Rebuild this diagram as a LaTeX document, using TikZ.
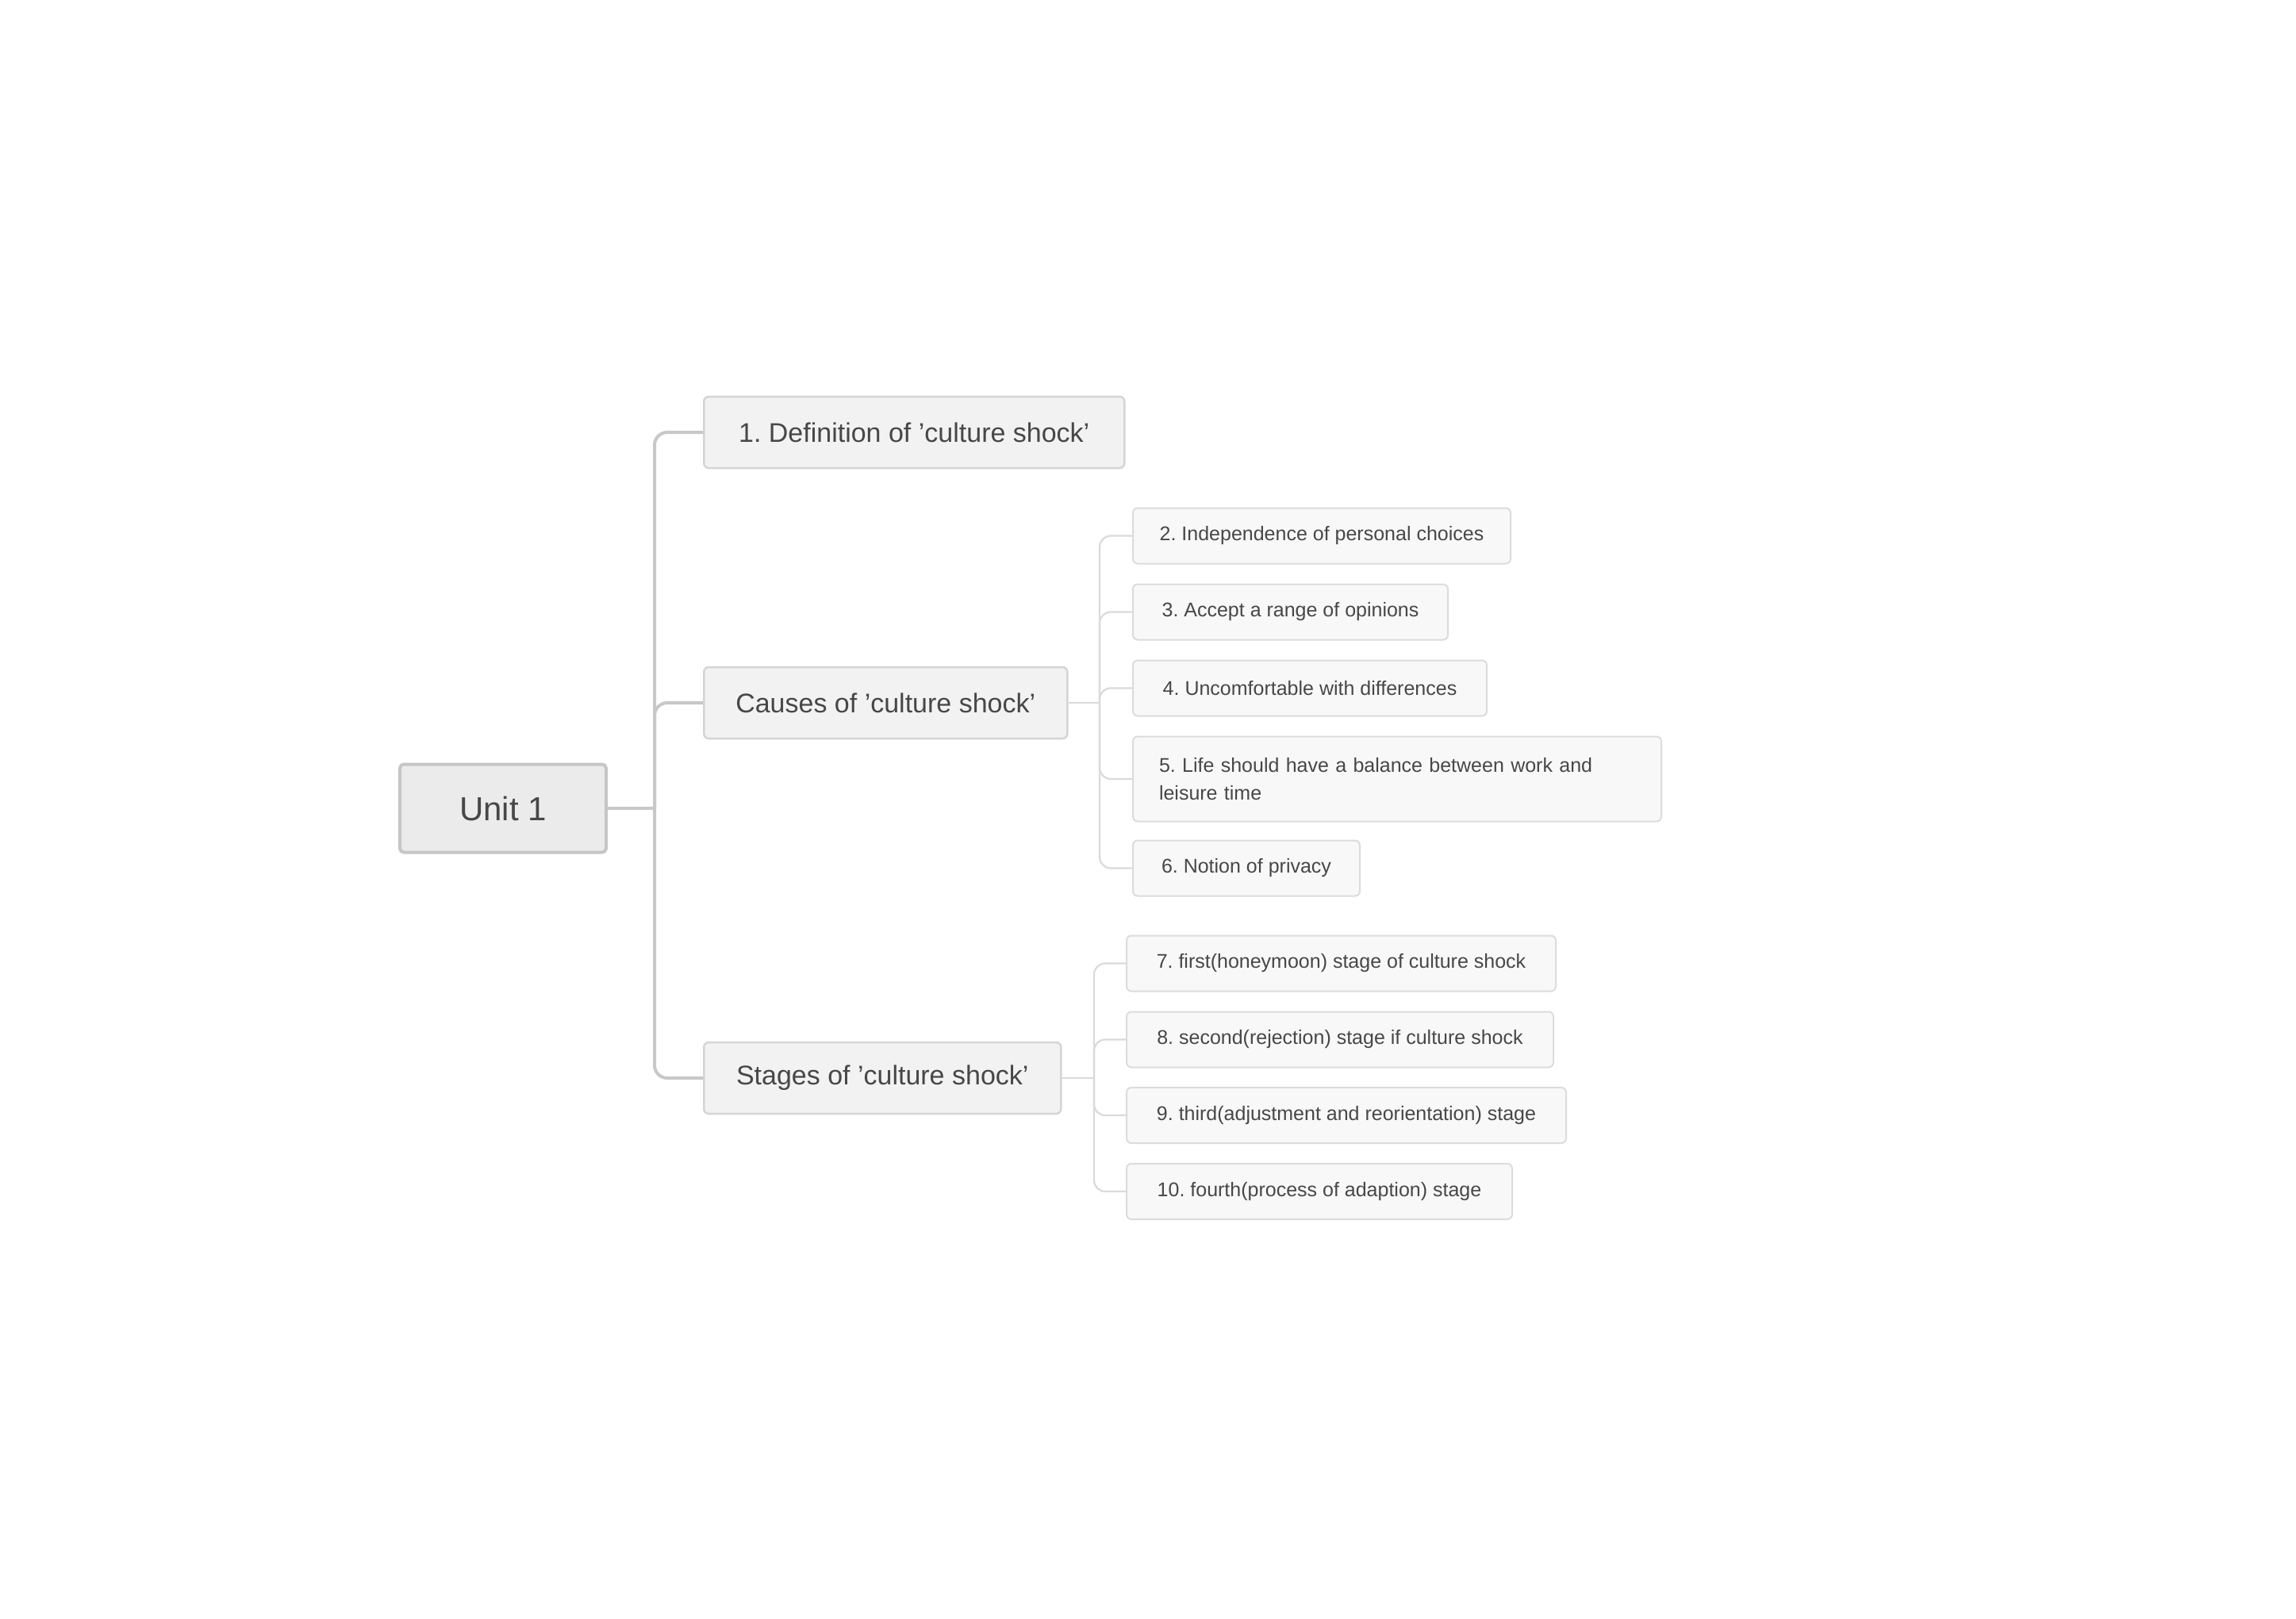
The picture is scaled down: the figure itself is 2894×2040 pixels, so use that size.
\documentclass[tikz,border=0pt]{standalone}
\usepackage{fontspec}
\setmainfont{Liberation Sans}
\frenchspacing
\usetikzlibrary{positioning}

\definecolor{txt}{HTML}{474747}
\definecolor{rootfill}{HTML}{EBEBEB}
\definecolor{rootline}{HTML}{C6C6C6}
\definecolor{mainfill}{HTML}{F2F2F2}
\definecolor{mainline}{HTML}{D5D5D5}
\definecolor{subfill}{HTML}{F8F8F8}
\definecolor{subline}{HTML}{DCDCDC}
\definecolor{linkA}{HTML}{C8C8C8}
\definecolor{linkB}{HTML}{DADADA}

\tikzset{
  rootbox/.style={draw=rootline, fill=rootfill, line width=4pt, rounded corners=5pt,
    minimum width=260pt, minimum height=111pt, anchor=west, text=txt,
    font=\fontsize{42}{50}\selectfont},
  mainbox/.style={draw=mainline, fill=mainfill, line width=2.5pt, rounded corners=6pt,
    minimum height=90pt, anchor=west, inner xsep=0pt, minimum width=#1,
    text=txt, font=\fontsize{34}{42}\selectfont},
  subbox/.style={draw=subline, fill=subfill, line width=2pt, rounded corners=6pt,
    minimum height=70pt, anchor=west, inner xsep=0pt, minimum width=#1,
    text=txt, font=\fontsize{25}{35}\selectfont},
  widebox/.style={subbox=#1, inner xsep=33pt, minimum width=0pt, text width=#1-66pt,
    align=left, minimum height=107pt},
  mainlink/.style={draw=linkA, line width=4pt},
  sublink/.style={draw=linkB, line width=2.2pt},
}

\begin{document}
\begin{tikzpicture}[x=1pt, y=-1pt]
% Parameters
\def\trunkA{825}; \def\trunkB{1386}; \def\trunkC{1379};
\def\subx{1427}; \def\stagex{1419};

\fill[white] (0,0) rectangle (2894,2040);
\useasboundingbox (0,0) rectangle (2894,2040);

% Root and main topics
\node[rootbox] (root) at (502,1019) {Unit 1};
\node[mainbox=530pt] (def) at (886,545) {1. Definition of ’culture shock’};
\node[mainbox=458pt] (cause) at (886,886) {Causes of ’culture shock’};
\node[mainbox=450pt] (stage) at (886,1359) {Stages of ’culture shock’};

% Causes
\node[subbox=476pt] (c2) at (\subx,675.5) {2. Independence of personal choices};
\node[subbox=397pt] (c3) at (\subx,771.5) {3. Accept a range of opinions};
\node[subbox=446pt] (c4) at (\subx,867.5) {4. Uncomfortable with differences};
\node[widebox=666pt] (c5) at (\subx,982)
  {5. Life should have a balance between work and\\leisure time};
\node[subbox=286pt] (c6) at (\subx,1094.5) {6. Notion of privacy};

% Stages
\node[subbox=541pt] (s7) at (\stagex,1214.5) {7. first(honeymoon) stage of culture shock};
\node[subbox=538pt] (s8) at (\stagex,1310.5) {8. second(rejection) stage if culture shock};
\node[subbox=554pt] (s9) at (\stagex,1406) {9. third(adjustment and reorientation) stage};
\node[subbox=486pt] (s10) at (\stagex,1502) {10. fourth(process of adaption) stage};

% Links
\coordinate (hubA) at (\trunkA,1019);
\coordinate (hubB) at (\trunkB,886);
\coordinate (hubC) at (\trunkC,1359);

\draw[mainlink] (root.east) -- (hubA);
\foreach \t in {def,cause,stage}
  \draw[mainlink, rounded corners=16pt] (hubA) |- (\t.west);

\draw[sublink] (cause.east) -- (hubB);
\foreach \t in {c2,c3,c4,c5,c6}
  \draw[sublink, rounded corners=14pt] (hubB) |- (\t.west);

\draw[sublink] (stage.east) -- (hubC);
\foreach \t in {s7,s8,s9,s10}
  \draw[sublink, rounded corners=14pt] (hubC) |- (\t.west);
\end{tikzpicture}
\end{document}
